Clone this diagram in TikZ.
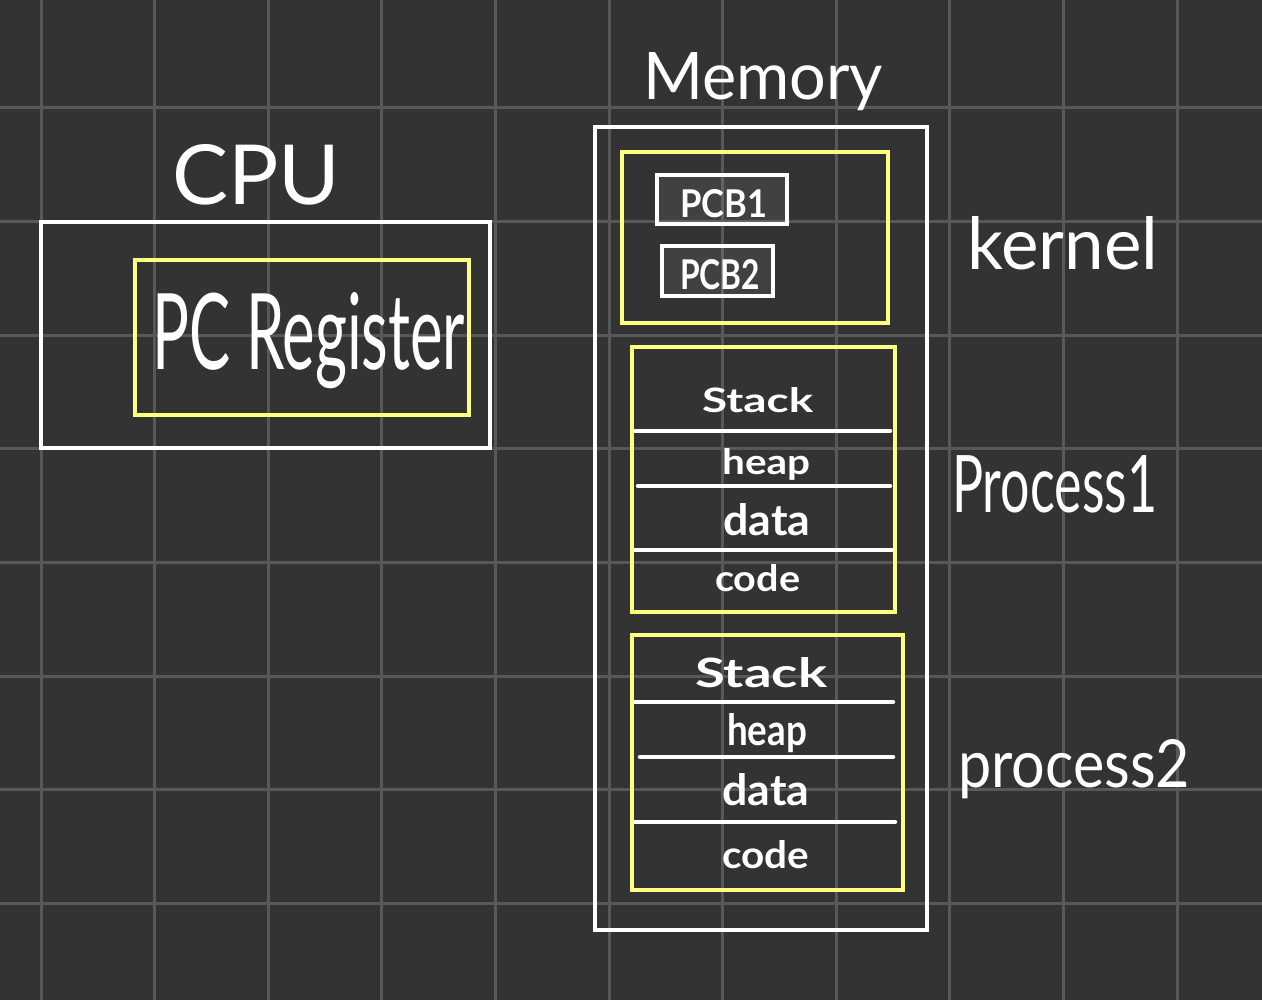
\documentclass[tikz,border=0pt]{standalone}
\usepackage{fontspec}
\setmainfont{Lato}
\usepackage{graphicx}
\definecolor{bg}{HTML}{333333}
\definecolor{gridc}{HTML}{585858}
\definecolor{hy}{HTML}{FFFF80}
\tikzset{
  gridline/.style={draw=gridc, line width=3pt},
  whitebox/.style={draw=white, line width=4pt},
  yellowbox/.style={draw=hy, line width=4pt},
  pcbbox/.style={draw=white, line width=4pt, fill=white, fill opacity=0.07},
  divider/.style={draw=white, line width=4.5pt, line cap=round},
  lbl/.style={text=white, inner sep=0pt, anchor=base west},
  smalllbl/.style={lbl, font=\bfseries},
}
\newcommand\fitxt[3]{\resizebox{#1pt}{#2pt}{#3}}
\begin{document}
\begin{tikzpicture}[x=1pt,y=-1pt]
\fill[bg] (0,0) rectangle (1262,1000);
\useasboundingbox (0,0) rectangle (1262,1000);
% grid
\foreach \i in {0,...,10} \draw[gridline] ({41+113.6*\i},0) -- ({41+113.6*\i},1000);
\foreach \j in {0,...,7} \draw[gridline] (0,{108+113.6*\j}) -- (1262,{108+113.6*\j});
% CPU
\draw[whitebox] (41,222) rectangle (490,448);
\draw[yellowbox] (135,260) rectangle (469,415);
\node[lbl] (cpu) at (172,205) {\fitxt{168}{60}{CPU}};
\node[lbl] (pcreg) at (152,370) {\fitxt{313}{77}{PC Register}};
% Memory
\draw[whitebox] (595,127) rectangle (927,930);
\node[lbl] (memory) at (643,100) {\fitxt{240}{47}{Memory}};
% Kernel
\draw[yellowbox] (622,152) rectangle (888,323);
\draw[pcbbox] (657,175) rectangle (787,224);
\draw[pcbbox] (662,246) rectangle (773,296);
\node[smalllbl] (pcb1) at (680,218) {\fitxt{87}{28}{PCB1}};
\node[smalllbl] (pcb2) at (680,290) {\fitxt{80}{30}{PCB2}};
\node[lbl] (kernel) at (967,270) {\fitxt{191}{53}{kernel}};
% Process 1
\draw[yellowbox] (632,347) rectangle (895,612);
\draw[divider] (635,431) -- (890,431);
\draw[divider] (638,486) -- (890,486);
\draw[divider] (635,550) -- (892,550);
\node[smalllbl] (stack1) at (702,412) {\fitxt{111}{25}{Stack}};
\node[smalllbl] (heap1) at (722,475) {\fitxt{88}{26}{heap}};
\node[smalllbl] (data1) at (723,535) {\fitxt{87}{32}{data}};
\node[smalllbl] (code1) at (715,591) {\fitxt{85}{27}{code}};
\node[lbl] (process1) at (952,512) {\fitxt{205}{57}{Process1}};
% Process 2
\draw[yellowbox] (632,635) rectangle (903,890);
\draw[divider] (635,702) -- (893,702);
\draw[divider] (640,757) -- (893,757);
\draw[divider] (635,822) -- (895,822);
\node[smalllbl] (stack2) at (695,687) {\fitxt{132}{30}{Stack}};
\node[smalllbl] (heap2) at (727,745) {\fitxt{80}{32}{heap}};
\node[smalllbl] (data2) at (722,805) {\fitxt{87}{32}{data}};
\node[smalllbl] (code2) at (722,868) {\fitxt{87}{28}{code}};
\node[lbl] (process2) at (958,787) {\fitxt{232}{48}{process2}};
\end{tikzpicture}
\end{document}
